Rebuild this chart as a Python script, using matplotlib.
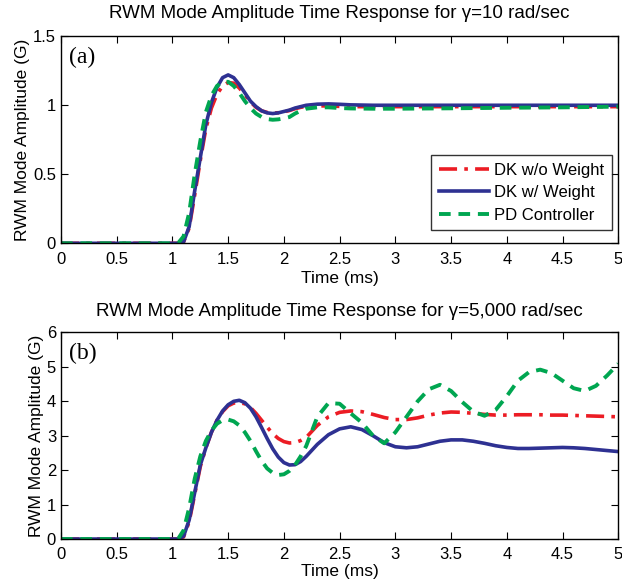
import matplotlib
matplotlib.use("Agg")
import matplotlib.pyplot as plt
from matplotlib.ticker import FormatStrFormatter

plt.rcParams['font.family'] = ['Liberation Sans', 'DejaVu Sans']

# ---- panel (a): gamma = 10 rad/sec ----
t_a = [0, 1.0, 1.05, 1.1, 1.15, 1.2, 1.25, 1.3, 1.35, 1.4, 1.45, 1.5, 1.55, 1.6, 1.65,
       1.7, 1.75, 1.8, 1.85, 1.9, 1.95, 2.0, 2.05, 2.1, 2.15, 2.2,
       2.3, 2.4, 2.5, 2.6, 2.8, 3.0, 3.5, 4.0, 4.5, 5.0]
dk_wo_a = [0, 0, 0, 0.01, 0.11, 0.35, 0.6, 0.83, 0.98, 1.08, 1.14, 1.165, 1.16, 1.125, 1.075,
           1.025, 0.985, 0.96, 0.948, 0.944, 0.946, 0.953, 0.962, 0.975, 0.985, 0.992,
           0.996, 0.995, 0.992, 0.99, 0.99, 0.99, 0.99, 0.99, 0.99, 0.99]
dk_w_a = [0, 0, 0, 0.01, 0.12, 0.38, 0.62, 0.86, 1.02, 1.13, 1.2, 1.22, 1.2, 1.15, 1.09,
          1.03, 0.99, 0.96, 0.945, 0.94, 0.945, 0.955, 0.965, 0.98, 0.99, 1.0,
          1.008, 1.01, 1.007, 1.003, 1.0, 1.0, 1.0, 1.0, 1.0, 1.0]
pd_a = [0, 0, 0, 0.05, 0.22, 0.5, 0.74, 0.95, 1.07, 1.14, 1.17, 1.17, 1.14, 1.09, 1.03,
        0.98, 0.94, 0.915, 0.9, 0.895, 0.898, 0.905, 0.915, 0.94, 0.96, 0.975,
        0.985, 0.985, 0.98, 0.977, 0.975, 0.975, 0.978, 0.982, 0.985, 0.99]

# ---- panel (b): gamma = 5,000 rad/sec ----
t_b = [0, 1.0, 1.05, 1.1, 1.15, 1.2, 1.25, 1.3, 1.35, 1.4, 1.45, 1.5, 1.55, 1.6, 1.65,
       1.7, 1.75, 1.8, 1.85, 1.9, 1.95, 2.0, 2.05, 2.1, 2.15, 2.2,
       2.3, 2.4, 2.5, 2.6, 2.7, 2.8, 2.9, 3.0, 3.1, 3.2, 3.3, 3.4, 3.5, 3.6,
       3.7, 3.8, 3.9, 4.0, 4.1, 4.2, 4.3, 4.4, 4.5, 4.6, 4.7, 4.8, 4.9, 5.0]
dk_wo_b = [0, 0, 0, 0.06, 0.5, 1.3, 2.1, 2.65, 3.1, 3.45, 3.7, 3.87, 3.95, 3.96, 3.93,
           3.82, 3.65, 3.45, 3.25, 3.06, 2.92, 2.83, 2.79, 2.8, 2.86, 2.95,
           3.3, 3.55, 3.68, 3.72, 3.7, 3.62, 3.53, 3.47, 3.47, 3.52, 3.6, 3.66, 3.69, 3.68,
           3.65, 3.62, 3.6, 3.6, 3.61, 3.61, 3.61, 3.6, 3.6, 3.59, 3.58, 3.57, 3.56, 3.55]
dk_w_b = [0, 0, 0, 0.08, 0.55, 1.35, 2.15, 2.65, 3.1, 3.45, 3.72, 3.9, 4.0, 4.03, 3.96,
          3.8, 3.55, 3.24, 2.92, 2.62, 2.38, 2.22, 2.15, 2.16, 2.25, 2.4,
          2.75, 3.03, 3.2, 3.26, 3.18, 3.0, 2.8, 2.68, 2.65, 2.68, 2.76, 2.84, 2.88, 2.88,
          2.84, 2.78, 2.71, 2.66, 2.63, 2.63, 2.64, 2.65, 2.66, 2.65, 2.63, 2.6, 2.57, 2.54]
pd_b = [0, 0, 0, 0.25, 0.9, 1.75, 2.4, 2.85, 3.15, 3.35, 3.45, 3.47, 3.42, 3.3, 3.1,
        2.85, 2.55, 2.27, 2.05, 1.92, 1.86, 1.88, 1.98, 2.15, 2.4, 2.7,
        3.55, 3.95, 3.93, 3.65, 3.38, 3.0, 2.78, 3.1, 3.55, 4.0, 4.35, 4.48, 4.3, 3.98,
        3.7, 3.58, 3.75, 4.15, 4.6, 4.85, 4.92, 4.82, 4.6, 4.38, 4.3, 4.45, 4.75, 5.09]

labels = ["DK w/o Weight", "DK w/ Weight", "PD Controller"]
red = "#ec1c24"
blue = "#2e3192"
green = "#00a651"

fig = plt.figure(figsize=(6.22, 5.84), dpi=100)
ax1 = fig.add_axes([0.098, 0.5834, 0.896, 0.3545])
ax2 = fig.add_axes([0.098, 0.077, 0.896, 0.3537])


def draw(ax, t, wo, w, pd):
    ax.plot(t, wo, color=red, lw=2.6, dashes=(5, 2, 1, 2), label=labels[0])
    ax.plot(t, w, color=blue, lw=2.6, label=labels[1])
    ax.plot(t, pd, color=green, lw=2.8, dashes=(3, 2), label=labels[2])
    ax.set_xlim(0, 5)
    ax.set_xticks([0, 0.5, 1, 1.5, 2, 2.5, 3, 3.5, 4, 4.5, 5])
    ax.xaxis.set_major_formatter(FormatStrFormatter('%g'))
    ax.yaxis.set_major_formatter(FormatStrFormatter('%g'))
    ax.tick_params(direction='in', top=True, right=True, length=5, labelsize=12, width=0.8)
    ax.tick_params(axis='x', pad=6)
    ax.set_ylabel("RWM Mode Amplitude (G)", fontsize=12.5, labelpad=2)
    for s in ax.spines.values():
        s.set_linewidth(1.0)


draw(ax1, t_a, dk_wo_a, dk_w_a, pd_a)
ax1.set_xlabel("Time (ms)", fontsize=12.5, labelpad=3)
ax1.set_ylim(0, 1.5)
ax1.set_yticks([0, 0.5, 1, 1.5])
ax1.set_title("RWM Mode Amplitude Time Response for γ=10 rad/sec", fontsize=13.5, pad=13)
ax1.text(0.014, 0.9, "(a)", transform=ax1.transAxes, fontsize=17,
         family='Liberation Serif', va='center')
leg = ax1.legend(loc='lower right', bbox_to_anchor=(0.988, 0.064), borderaxespad=0,
                 fancybox=False, edgecolor='black', fontsize=12, handlelength=3.0,
                 handletextpad=0.3, borderpad=0.45, labelspacing=0.45)
leg.get_frame().set_linewidth(1.0)

draw(ax2, t_b, dk_wo_b, dk_w_b, pd_b)
ax2.set_xlabel("Time (ms)", fontsize=12.5, labelpad=1)
ax2.set_ylim(0, 6)
ax2.set_yticks([0, 1, 2, 3, 4, 5, 6])
ax2.set_title("RWM Mode Amplitude Time Response for γ=5,000 rad/sec", fontsize=13.5, pad=12)
ax2.text(0.014, 0.9, "(b)", transform=ax2.transAxes, fontsize=17,
         family='Liberation Serif', va='center')

fig.savefig("out.png", dpi=100)
